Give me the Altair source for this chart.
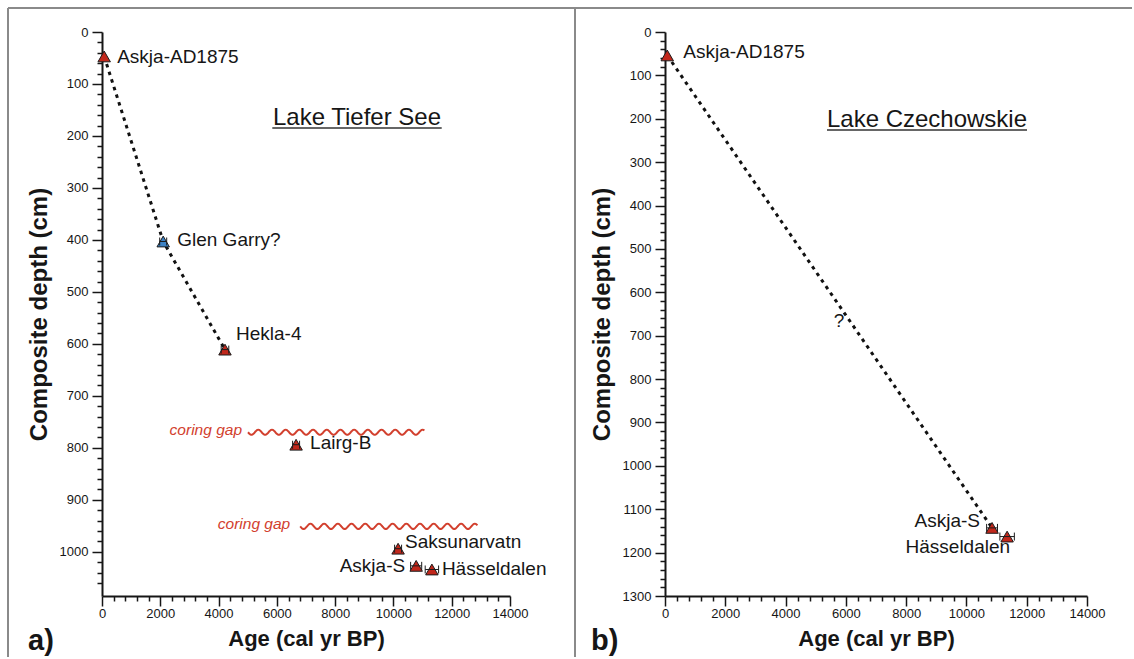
import altair as alt
import numpy as np
import pandas as pd

FONT = "Liberation Sans"
RED = "#c1271b"
BLUE = "#3d82c4"
GAP_RED = "#d2402e"
FRAME = "#8a8a8a"
INK = "#161616"

# ---------------- Lake Tiefer See: tephra tie-points ----------------
tfs_name = ["Askja-AD1875", "Glen Garry?", "Hekla-4", "Lairg-B", "Saksunarvatn", "Askja-S", "Hässeldalen"]
tfs_age = [75, 2100, 4220, 6660, 10160, 10780, 11320]
tfs_err = [0, 120, 130, 120, 120, 190, 230]
tfs_depth = [47, 403, 611, 794, 994, 1027, 1034]
tfs_status = ["confirmed", "tentative", "confirmed", "confirmed", "confirmed", "confirmed", "confirmed"]
# tie-points joined by the age-depth line
tfs_model = ["Askja-AD1875", "Glen Garry?", "Hekla-4"]

# coring gaps (age range and composite depth)
gap_start = [5010, 6800]
gap_end = [11080, 12900]
gap_depth = [770, 951]

# ---------------- Lake Czechowskie: tephra tie-points ----------------
jc_name = ["Askja-AD1875", "Askja-S", "Hässeldalen"]
jc_age = [75, 10850, 11350]
jc_err = [0, 180, 240]
jc_depth = [54, 1143, 1163]
jc_status = ["confirmed", "confirmed", "confirmed"]
jc_model = ["Askja-AD1875", "Askja-S"]
jc_query_age = [5770]
jc_query_depth = [666]

# label placement next to each symbol: (dx, dy, align)
tfs_label_pos = {
    "Askja-AD1875": (13, 1, "left"),
    "Glen Garry?": (14, -1, "left"),
    "Hekla-4": (11, -15.5, "left"),
    "Lairg-B": (14, -1.5, "left"),
    "Saksunarvatn": (7, -6.5, "left"),
    "Askja-S": (-11, 0, "right"),
    "Hässeldalen": (10, 0, "left"),
}
jc_label_pos = {
    "Askja-AD1875": (16, -3.5, "left"),
    "Askja-S": (-12, -7, "right"),
    "Hässeldalen": (3, 10.5, "right"),
}
gap_label_dx = [-6, -10]


def tie_points(names, ages, errs, depths, status):
    df = pd.DataFrame({"name": names, "age": ages, "err": errs, "depth": depths, "status": status})
    df["lo"] = df["age"] - df["err"]
    df["hi"] = df["age"] + df["err"]
    return df


def wavy(start, end, depth, gid, period=470.0, amp=5.0):
    # decorative wavy stroke marking a coring gap
    t = np.arange(start, end + 1e-9, period / 16.0)
    return pd.DataFrame({"age": t, "depth": depth + amp * np.sin(2 * np.pi * (t - start) / period), "gap": gid})


tfs = tie_points(tfs_name, tfs_age, tfs_err, tfs_depth, tfs_status)
jc = tie_points(jc_name, jc_age, jc_err, jc_depth, jc_status)
gaps = pd.DataFrame({"start": gap_start, "end": gap_end, "depth": gap_depth, "label": "coring gap"})
waves = pd.concat([wavy(s, e, d, i) for i, (s, e, d) in enumerate(zip(gap_start, gap_end, gap_depth))])

common_axis = dict(
    domainColor=INK, domainWidth=2, tickColor=INK, tickWidth=1.5,
    labelFont=FONT, labelFontSize=13, labelColor=INK,
    titleFont=FONT, titleFontWeight="bold", titleColor=INK,
    grid=False, labelOverlap=False, labelFlush=False, format="d",
)


def major_minor(step):
    test = f"datum.value % {step} === 0"
    return dict(
        labelExpr=f"{test} ? datum.label : ''",
        tickSize={"condition": {"test": test, "value": 10}, "value": 5},
    )


class Scales:
    """Shared x (age) and y (depth) encodings for one panel."""

    def __init__(self, depth_max, depth_ticks):
        self.x_axis = alt.Axis(values=list(range(0, 14001, 400)), labelPadding=1, titlePadding=8,
                               titleFontSize=22, **major_minor(2000), **common_axis)
        self.y_axis = alt.Axis(values=depth_ticks, labelPadding=4, titlePadding=8,
                               titleFontSize=24, **major_minor(100), **common_axis)
        self.x_scale = alt.Scale(domain=[0, 14000], nice=False, zero=False)
        self.y_scale = alt.Scale(domain=[0, depth_max], nice=False, zero=False, reverse=True)

    def x(self, field="age"):
        return alt.X(f"{field}:Q", title="Age (cal yr BP)", axis=self.x_axis, scale=self.x_scale)

    def y(self, field="depth"):
        return alt.Y(f"{field}:Q", title="Composite depth (cm)", axis=self.y_axis, scale=self.y_scale)


ONE = pd.DataFrame({"k": [0]})


def rule(x1, x2, y1, y2):
    return alt.Chart(ONE).mark_rule(color=FRAME, strokeWidth=2).encode(
        x=alt.value(x1), x2=alt.value(x2), y=alt.value(y1), y2=alt.value(y2))


def text_at(txt, x, y, **style):
    return alt.Chart(pd.DataFrame({"t": [txt]})).mark_text(font=FONT, **style).encode(
        text="t:N", x=alt.value(x), y=alt.value(y))


def lake_title(txt, cx, baseline, half_width):
    t = text_at(txt, cx, baseline, fontSize=24, color=INK, align="center", baseline="alphabetic")
    u = alt.Chart(ONE).mark_rule(color="#333333", strokeWidth=1.6).encode(
        x=alt.value(cx - half_width), x2=alt.value(cx + half_width),
        y=alt.value(baseline + 3), y2=alt.value(baseline + 3))
    return [t, u]


def point_layers(df, model, label_pos, S):
    line = alt.Chart(df[df["name"].isin(model)]).mark_line(
        color="#111111", strokeWidth=3, strokeDash=[3.5, 4.5]).encode(x=S.x(), y=S.y(), order="depth:Q")
    tri = alt.Chart(df).mark_point(
        shape="triangle-up", filled=True, size=155, stroke="#1c1c1c", strokeWidth=1, opacity=1
    ).encode(
        x=S.x(), y=S.y(),
        color=alt.Color("status:N", scale=alt.Scale(domain=["confirmed", "tentative"], range=[RED, BLUE]),
                        legend=None),
    )
    eb = df[df["err"] > 0]
    bar = alt.Chart(eb).mark_rule(color="#1c1c1c", strokeWidth=1).encode(
        x=S.x("lo"), x2="hi:Q", y=S.y())
    cap_lo = alt.Chart(eb).mark_rule(color="#1c1c1c", strokeWidth=1, yOffset=-4, y2Offset=4).encode(
        x=S.x("lo"), y=S.y(), y2="depth:Q")
    cap_hi = alt.Chart(eb).mark_rule(color="#1c1c1c", strokeWidth=1, yOffset=-4, y2Offset=4).encode(
        x=S.x("hi"), y=S.y(), y2="depth:Q")
    labels = []
    for name, (dx, dy, align) in label_pos.items():
        labels.append(
            alt.Chart(df[df["name"] == name]).mark_text(
                font=FONT, fontSize=19, color=INK, align=align, baseline="middle", dx=dx, dy=dy
            ).encode(x=S.x(), y=S.y(), text="name:N")
        )
    return [line, tri, bar, cap_lo, cap_hi] + labels


# ---------------- panel a ----------------
Sa = Scales(1085, list(range(0, 1061, 20)))
wave_layer = alt.Chart(waves).mark_line(color=GAP_RED, strokeWidth=2, interpolate="monotone").encode(
    x=Sa.x(), y=Sa.y(), detail="gap:N")
gap_labels = [
    alt.Chart(gaps.iloc[[i]]).mark_text(
        font=FONT, fontSize=15.5, fontStyle="italic", color=GAP_RED, align="right",
        baseline="middle", dx=dx, dy=-2
    ).encode(x=Sa.x("start"), y=Sa.y(), text="label:N")
    for i, dx in enumerate(gap_label_dx)
]

panel_a = alt.layer(
    rule(-94, -94, -24, 625),
    rule(-94, 473, -24, -24),
    rule(473, 473, -24, 625),
    *lake_title("Lake Tiefer See", 255, 93, 84.7),
    wave_layer,
    *gap_labels,
    *point_layers(tfs, tfs_model, tfs_label_pos, Sa),
    text_at("a)", -74, 609, fontSize=29, fontWeight="bold", color=INK, align="left", baseline="middle"),
).properties(width=408, height=564)

# ---------------- panel b ----------------
Sb = Scales(1300, list(range(0, 1301, 20)))
query = alt.Chart(pd.DataFrame({"age": jc_query_age, "depth": jc_query_depth, "q": ["?"]})).mark_text(
    font=FONT, fontSize=19, color=INK, align="center", baseline="middle").encode(
    x=Sb.x(), y=Sb.y(), text="q:N")

panel_b = alt.layer(
    rule(-90, 467, -24, -24),
    *lake_title("Lake Czechowskie", 262, 95, 100),
    query,
    *point_layers(jc, jc_model, jc_label_pos, Sb),
    text_at("b)", -74, 609, fontSize=29, fontWeight="bold", color=INK, align="left", baseline="middle"),
).properties(width=422, height=564)

chart = alt.HConcatChart(
    hconcat=[panel_a, panel_b], spacing=155, bounds="flush",
    padding={"left": 7, "top": 7, "right": 0, "bottom": 0},
    background="white",
).configure_view(stroke=None)

chart.save("out.html", embed_options={"renderer": "svg", "actions": False})
